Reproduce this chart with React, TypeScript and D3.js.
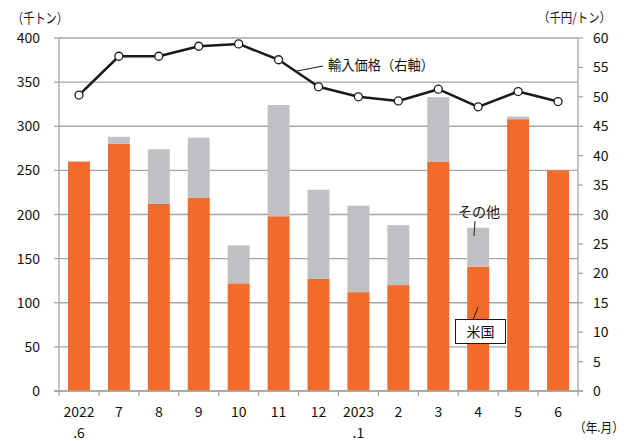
import React from 'react'
import * as d3 from 'd3'

// 月別 輸入量（千トン）と輸入価格（千円/トン）
const months = ['2022\n.6', '7', '8', '9', '10', '11', '12', '2023\n.1', '2', '3', '4', '5', '6']
const usVolume = [260, 280, 212, 219, 122, 198, 127, 112, 120, 260, 141, 308, 250]
const otherVolume = [0, 8, 62, 68, 43, 126, 101, 98, 68, 73, 44, 3, 0]
const importPrice = [50.3, 56.9, 56.9, 58.6, 59.0, 56.3, 51.7, 50.0, 49.3, 51.3, 48.3, 50.9, 49.2]
const leftTicks = [0, 50, 100, 150, 200, 250, 300, 350, 400]
const rightTicks = [0, 5, 10, 15, 20, 25, 30, 35, 40, 45, 50, 55, 60]

const font = '"Noto Sans CJK JP", "Noto Sans", sans-serif'
const orange = '#F26B2C'
const grey = '#BFC0C3'
const gridColor = '#A6A6A6'

export default function App() {
  const width = 631
  const height = 441
  const left = 59
  const right = 578
  const top = 38
  const bottom = 391

  const x = d3.scaleBand<string>().domain(months).range([left, right]).paddingInner(0.45).paddingOuter(0.225)
  const band = d3.scaleBand<string>().domain(months).range([left, right]).padding(0)
  const yL = d3.scaleLinear().domain([0, 400]).range([bottom, top])
  const yR = d3.scaleLinear().domain([0, 60]).range([bottom, top])

  const line = d3
    .line<number>()
    .x((_, i) => x(months[i])! + x.bandwidth() / 2)
    .y(d => yR(d))

  return (
    <svg width={width} height={height} style={{position: 'absolute', left: 0, top: 0, fontFamily: font}}>
      <rect width={width} height={height} fill="#fff" />

      {/* grid */}
      {leftTicks.map(t => (
        <line key={t} x1={left} x2={right} y1={yL(t)} y2={yL(t)} stroke={gridColor} strokeWidth={1.3} />
      ))}

      {/* bars */}
      {months.map((m, i) => (
        <g key={m}>
          <rect x={x(m)} width={x.bandwidth()} y={yL(usVolume[i])} height={yL(0) - yL(usVolume[i])} fill={orange} />
          {otherVolume[i] > 0 && (
            <rect
              x={x(m)}
              width={x.bandwidth()}
              y={yL(usVolume[i] + otherVolume[i])}
              height={yL(0) - yL(otherVolume[i])}
              fill={grey}
            />
          )}
        </g>
      ))}

      {/* axes */}
      <line x1={left} x2={left} y1={top} y2={bottom} stroke={gridColor} strokeWidth={1.3} />
      <line x1={right} x2={right} y1={top} y2={bottom} stroke={gridColor} strokeWidth={1.3} />
      <line x1={left - 5} x2={right + 5} y1={bottom} y2={bottom} stroke={gridColor} strokeWidth={1.3} />
      {leftTicks.map(t => (
        <g key={t}>
          <line x1={left - 5} x2={left} y1={yL(t)} y2={yL(t)} stroke={gridColor} strokeWidth={1.3} />
          <text x={40} y={yL(t)} dy="0.36em" textAnchor="end" fontSize={14} fill="#111">
            {t}
          </text>
        </g>
      ))}
      {rightTicks.map(t => (
        <g key={t}>
          <line x1={right} x2={right + 5} y1={yR(t)} y2={yR(t)} stroke={gridColor} strokeWidth={1.3} />
          <text x={593} y={yR(t)} dy="0.36em" textAnchor="start" fontSize={14} fill="#111">
            {t}
          </text>
        </g>
      ))}
      {months.map(m => (
        <line
          key={m}
          x1={band(m)!}
          x2={band(m)!}
          y1={bottom}
          y2={bottom + 5}
          stroke={gridColor}
          strokeWidth={1.3}
        />
      ))}
      <line x1={right} x2={right} y1={bottom} y2={bottom + 5} stroke={gridColor} strokeWidth={1.3} />
      {months.map(m =>
        m.split('\n').map((part, j) => (
          <text
            key={m + j}
            x={x(m)! + x.bandwidth() / 2}
            y={417 + j * 21}
            textAnchor="middle"
            fontSize={14}
            fill="#111"
          >
            {part}
          </text>
        ))
      )}

      {/* price line */}
      <path d={line(importPrice)!} fill="none" stroke="#1a1a1a" strokeWidth={2.5} strokeLinejoin="round" />
      {importPrice.map((p, i) => (
        <circle
          key={i}
          cx={x(months[i])! + x.bandwidth() / 2}
          cy={yR(p)}
          r={4}
          fill="#fff"
          stroke="#1a1a1a"
          strokeWidth={1.3}
        />
      ))}

      {/* units */}
      <text x={12} y={23} fontSize={14} fill="#111" textLength={56} lengthAdjust="spacingAndGlyphs">（千トン）</text>
      <text x={538} y={22} fontSize={13} fill="#111" textLength={73} lengthAdjust="spacingAndGlyphs">（千円/トン）</text>
      <text x={574} y={432} fontSize={13} fill="#111" textLength={50} lengthAdjust="spacingAndGlyphs">（年.月）</text>

      {/* annotations */}
      <line x1={297} x2={323} y1={71} y2={66} stroke="#1a1a1a" strokeWidth={1} />
      <text x={328} y={70} fontSize={14} fill="#111" textLength={106} lengthAdjust="spacingAndGlyphs">輸入価格（右軸）</text>

      <text x={458} y={217} fontSize={14} fill="#111">その他</text>
      <line x1={475} x2={474} y1={221} y2={236} stroke="#1a1a1a" strokeWidth={1} />

      <line x1={478} x2={473} y1={307} y2={320} stroke="#1a1a1a" strokeWidth={1} />
      <rect x={455.5} y={319.5} width={50} height={24} fill="#fff" stroke="#1a1a1a" strokeWidth={1} />
      <text x={480.5} y={337} textAnchor="middle" fontSize={14} fill="#111">米国</text>
    </svg>
  )
}
